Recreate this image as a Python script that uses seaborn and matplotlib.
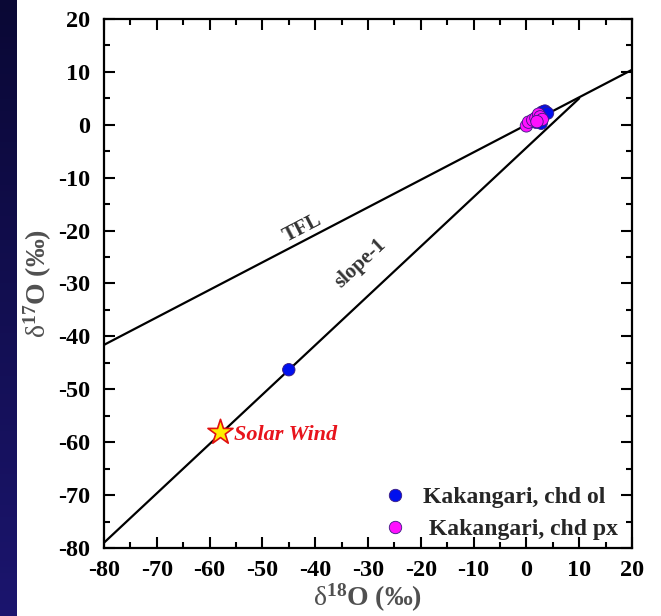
import matplotlib
matplotlib.use("Agg")
import matplotlib.pyplot as plt
from matplotlib.ticker import MultipleLocator
import numpy as np
import seaborn as sns
import pandas as pd

# data
ol_d18 = [2.0, 2.5, 3.0, 3.5, 4.0, 2.8, 1.8, -45.0]
ol_d17 = [1.0, 1.8, 2.4, 2.6, 2.2, 0.3, 0.5, -46.3]
px_d18 = [0.0, 0.4, 1.2, 1.8, 2.3, 2.6, 3.0, 2.0]
px_d17 = [-0.2, 0.5, 0.9, 1.3, 2.0, 1.5, 1.0, 0.6]
ol_label = "Kakangari, chd ol"
px_label = " Kakangari, chd px"

tfl_x = [-80, 20]
tfl_y = [-41.6, 10.4]
slope1_x = [-80, 10]
slope1_y = [-79.0, 5.0]

sw_x = [-58.0]
sw_y = [-58.0]

sns.set_theme(style="ticks")
plt.rcParams['font.family'] = ['Liberation Serif', 'DejaVu Serif']
plt.rcParams['axes.unicode_minus'] = False
plt.rcParams['mathtext.fontset'] = 'custom'
plt.rcParams['mathtext.rm'] = 'Liberation Serif'
plt.rcParams['mathtext.it'] = 'Liberation Serif:italic'
plt.rcParams['mathtext.bf'] = 'Liberation Serif:bold'

df = pd.DataFrame({
    "d18": ol_d18 + px_d18,
    "d17": ol_d17 + px_d17,
    "grp": [ol_label] * len(ol_d18) + [px_label] * len(px_d18),
})

fig = plt.figure(figsize=(6.61, 6.16), dpi=100)
ax = fig.add_axes([104 / 661, 1 - 548 / 616, 528 / 661, 529 / 616])

# dark slide strip on the left
strip = fig.add_axes([0, 0, 17 / 661, 1])
grad = np.linspace(0, 1, 100).reshape(-1, 1)
strip.imshow(grad, aspect='auto', cmap=matplotlib.colors.LinearSegmentedColormap.from_list(
    "bg", ["#0a0835", "#1b156e"]), origin='upper')
strip.axis('off')

ax.plot(tfl_x, tfl_y, color='black', lw=1.6, zorder=1)
ax.plot(slope1_x, slope1_y, color='black', lw=1.6, zorder=1)

sns.scatterplot(data=df, x="d18", y="d17", hue="grp",
                palette={ol_label: "#0010ee", px_label: "#ff10ff"},
                edgecolor="#3a1a80", linewidth=0.6, s=80, ax=ax, zorder=3)

ax.scatter(sw_x, sw_y, marker='*', s=360, facecolor='#ffee00',
           edgecolor='#e01010', linewidth=1.2, zorder=4)
ax.text(-55.4, -58.6, "Solar Wind", color='#e8141c', fontsize=16,
        fontweight='bold', fontstyle='italic', va='center', ha='left')

ax.text(-42.5, -19.6, "TFL", color='#333333', fontsize=15, fontweight='bold',
        rotation=27.5, ha='center', va='center', rotation_mode='anchor')
ax.text(-31.4, -26.2, "slope-1", color='#333333', fontsize=15, fontweight='bold',
        rotation=43, ha='center', va='center', rotation_mode='anchor')

ax.set_xlim(-80, 20)
ax.set_ylim(-80, 20)
ax.xaxis.set_major_locator(MultipleLocator(10))
ax.yaxis.set_major_locator(MultipleLocator(10))
ax.xaxis.set_minor_locator(MultipleLocator(5))
ax.yaxis.set_minor_locator(MultipleLocator(5))
ax.tick_params(which='both', direction='in', top=True, right=True, width=1.5,
               colors='black', labelsize=17.5)
ax.tick_params(axis='x', pad=9)
ax.tick_params(axis='y', pad=10)
ax.tick_params(which='major', length=8)
ax.tick_params(which='minor', length=4.5)
for lab in ax.get_xticklabels() + ax.get_yticklabels():
    lab.set_fontweight('bold')
for sp in ax.spines.values():
    sp.set_linewidth(1.6)
    sp.set_color('black')
    sp.set_visible(True)

ax.set_xlabel(r"$\mathrm{\delta}^{\mathbf{18}}$O (‰)", fontsize=20, color='#505050',
              fontweight='bold', labelpad=0)
ax.set_ylabel(r"$\mathrm{\delta}^{\mathbf{17}}$O (‰)", fontsize=20, color='#505050',
              fontweight='bold', labelpad=3)

leg = ax.legend(loc='lower right', bbox_to_anchor=(1.0, -0.012), frameon=False,
                prop={'weight': 'bold', 'size': 17}, handletextpad=0.2,
                markerscale=1.0, labelspacing=0.45, borderaxespad=0.2)

fig.savefig("out.png", dpi=100)
